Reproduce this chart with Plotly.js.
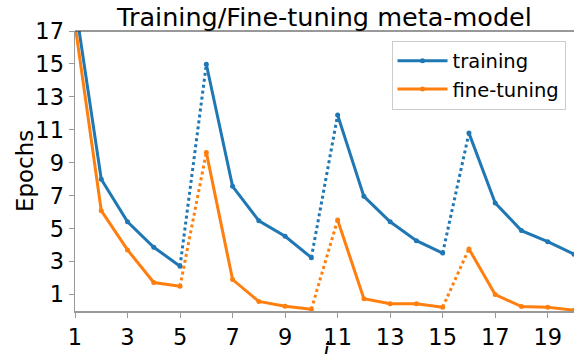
<!DOCTYPE html>
<html>
<head>
<meta charset="utf-8">
<script src="https://cdn.plot.ly/plotly-3.0.1.min.js"></script>
<style>html,body{margin:0;padding:0;background:#fff;}#chart{width:574px;height:354px;}</style>
</head>
<body>
<div id="chart"></div>
<script>
const iterations = [1,2,3,4,5,6,7,8,9,10,11,12,13,14,15,16,17,18,19,20];
const training   = [18.7,8.0,5.42,3.87,2.72,14.98,7.57,5.48,4.54,3.24,11.9,6.96,5.42,4.27,3.52,10.8,6.56,4.88,4.21,3.45];
const fineTuning = [17.4,6.09,3.71,1.73,1.50,9.63,1.91,0.58,0.29,0.11,5.53,0.74,0.44,0.44,0.23,3.77,1.0,0.27,0.23,0.05];
const seriesNames = ['training','fine-tuning'];
const seriesColors = ['#1f77b4','#ff7f0e'];
const xTicks = [1,3,5,7,9,11,13,15,17,19];
const yTicks = [1,3,5,7,9,11,13,15,17];

const blocks = [[0,5],[5,10],[10,15],[15,20]];
const traces = [];
[training, fineTuning].forEach((vals, s) => {
  blocks.forEach((b, bi) => {
    traces.push({
      x: iterations.slice(b[0], b[1]), y: vals.slice(b[0], b[1]),
      type: 'scatter', mode: 'lines+markers', name: seriesNames[s],
      legendgroup: seriesNames[s], showlegend: bi === 0,
      line: {color: seriesColors[s], width: 3},
      marker: {color: seriesColors[s], size: 5}
    });
    if (bi < blocks.length - 1) {
      traces.push({
        x: iterations.slice(b[1]-1, b[1]+1), y: vals.slice(b[1]-1, b[1]+1),
        type: 'scatter', mode: 'lines', legendgroup: seriesNames[s], showlegend: false,
        line: {color: seriesColors[s], width: 3, dash: 'dot'}, hoverinfo: 'skip'
      });
    }
  });
});

const layout = {
  width: 574, height: 354,
  margin: {l: 75, r: 0, t: 31, b: 43},
  paper_bgcolor: '#fff', plot_bgcolor: '#fff',
  font: {family: 'DejaVu Sans', color: '#000'},
  title: {text: 'Training/Fine-tuning meta-model', font: {size: 25.5, color: '#000'},
          x: 0.5, xref: 'paper', xanchor: 'center', y: 1, yref: 'paper', yanchor: 'bottom', pad: {b: 5}},
  xaxis: {range: [1, 20], tickvals: xTicks, ticktext: xTicks.map(String),
          showgrid: false, zeroline: false, showline: true, linecolor: '#999', linewidth: 1.5,
          ticks: 'outside', ticklen: 5, tickcolor: '#999', tickfont: {size: 22.5}, automargin: false},
  yaxis: {range: [0, 17], tickvals: yTicks, ticktext: yTicks.map(String),
          showgrid: false, zeroline: false, showline: true, linecolor: '#999', linewidth: 1.5,
          ticks: 'outside', ticklen: 5, tickcolor: '#999', tickfont: {size: 22.5}, automargin: false},
  annotations: [
    {text: 'Epochs', textangle: -90, xref: 'paper', yref: 'paper', x: -0.1, y: 0.5,
     xanchor: 'center', yanchor: 'middle', showarrow: false, font: {size: 23}},
    {text: '<i>i</i>', xref: 'paper', yref: 'paper', x: 0.504, y: -0.088,
     xanchor: 'center', yanchor: 'top', showarrow: false, font: {size: 23}}
  ],
  shapes: [{type: 'line', xref: 'paper', yref: 'paper', x0: 0, x1: 1, y0: 1, y1: 1,
            line: {color: '#333', width: 1.2}}],
  legend: {x: 0.983, y: 0.966, xanchor: 'right', yanchor: 'top',
           bgcolor: 'rgba(255,255,255,0.85)', bordercolor: '#ccc', borderwidth: 1,
           font: {size: 19.5}, tracegroupgap: 0, itemwidth: 50}
};
Plotly.newPlot('chart', traces, layout, {displayModeBar: false, staticPlot: true});
</script>
</body>
</html>
